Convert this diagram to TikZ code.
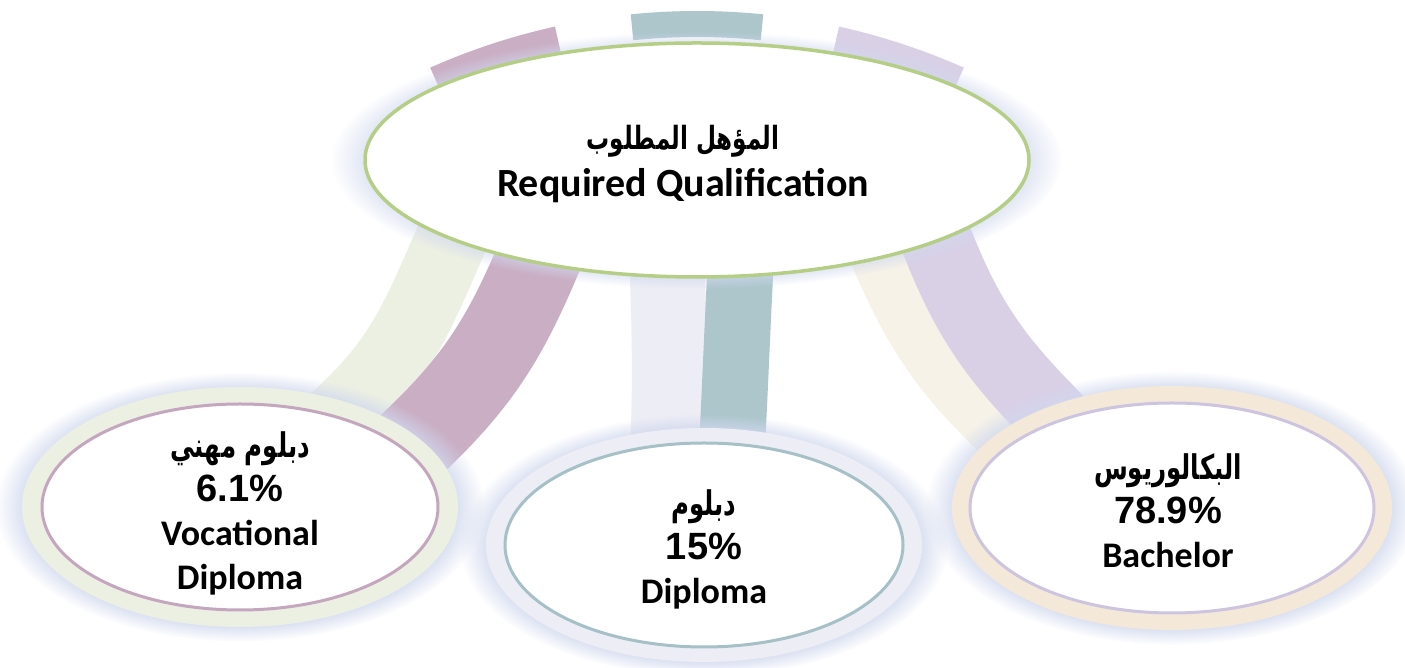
\documentclass[tikz,border=0pt]{standalone}
\usepackage{fontspec}
\TeXXeTstate=1
\newfontfamily\calib{Carlito}
\newfontfamily\arialf{Liberation Sans}
\newfontfamily\arabicfont[Script=Arabic, FakeStretch=0.72]{DejaVu Sans}
\usepackage{tikz}
\usetikzlibrary{shapes.geometric, positioning, backgrounds, shadows, fadings}
\definecolor{leafgreen}{RGB}{181,206,134}
\definecolor{glowblue}{RGB}{208,216,238}
\definecolor{mauve}{RGB}{202,174,196}
\definecolor{mauveline}{RGB}{196,166,190}
\definecolor{palegreen}{RGB}{236,240,227}
\definecolor{teal}{RGB}{172,198,204}
\definecolor{tealline}{RGB}{165,192,198}
\definecolor{palegray}{RGB}{237,237,245}
\definecolor{lavender}{RGB}{217,208,230}
\definecolor{lavline}{RGB}{205,196,224}
\definecolor{cream}{RGB}{246,242,232}
\definecolor{peach}{RGB}{244,232,216}

\begin{document}
\begin{tikzpicture}[
    x=1pt, y=1pt,
    halo/.style={circular glow={shadow scale=#1, fill=glowblue}},
    ring/.style={ellipse, inner sep=0pt, minimum width=436pt, minimum height=238pt},
    bubble/.style={ellipse, inner sep=0pt, fill=white, line width=3pt, minimum width=398pt, minimum height=206pt},
    ribbon/.style={line width=#1, shorten <=-40pt, shorten >=-40pt},
    tipband/.style={line width=26pt},
    lbl/.style={align=center, font=\calib\bfseries\fontsize{36}{44}\selectfont}
]
    \useasboundingbox (0,0) rectangle (1405,668);

    % Nodes
    \node[ellipse, inner sep=0pt, minimum width=664pt, minimum height=234pt,
          fill=white, draw=leafgreen, line width=3.5pt, halo=1.1] (top) at (697,508) {};
    \node[ring, fill=palegreen, minimum height=240pt, halo=1.12] (vocring) at (240,161) {};
    \node[bubble, draw=mauveline, minimum width=396pt] (voc) at (vocring) {};
    \node[ring, fill=palegray, minimum height=234pt, halo=1.12] (dipring) at (704,123) {};
    \node[bubble, draw=tealline, minimum height=204pt] (dip) at (dipring) {};
    \node[ring, fill=peach, minimum width=440pt, minimum height=244pt, halo=1.12] (bachring) at (1172,160) {};
    \node[bubble, draw=lavline, minimum width=404pt, minimum height=210pt] (bach) at (bachring) {};

    % Labels
    \node[lbl, font=\calib\bfseries\fontsize{40}{47}\selectfont] (toplbl) at ([xshift=-14pt,yshift=-4pt]top.center)
        {{\arabicfont\fontsize{32}{47}\selectfont\beginR المؤهل المطلوب\endR}\\Required Qualification};
    \node[lbl] (voclbl) at ([yshift=-6pt]voc.center)
        {{\arabicfont\fontsize{34}{44}\selectfont\beginR دبلوم مهني\endR}\\{\arialf\fontsize{38}{44}\selectfont 6.1\%}\\Vocational\\Diploma};
    \node[lbl] (diplbl) at ([yshift=-4pt]dip.center)
        {{\arabicfont\fontsize{34}{44}\selectfont\beginR دبلوم\endR}\\{\arialf\fontsize{38}{44}\selectfont 15\%}\\Diploma};
    \node[lbl] (bachlbl) at ([xshift=-4pt,yshift=-3pt]bach.center)
        {{\arabicfont\fontsize{34}{44}\selectfont\beginR البكالوريوس\endR}\\{\arialf\fontsize{38}{44}\selectfont 78.9\%}\\Bachelor};

    \begin{scope}[on background layer]
        \fill[white] (0,0) rectangle (1405,668);
        % Arcs peeking over the top
        \coordinate (hub) at (697,1);
        \draw[tipband, mauve] ([shift={(102.5:643)}]hub) arc[start angle=102.5, end angle=114, radius=643];
        \draw[tipband, teal] ([shift={(84.2:643)}]hub) arc[start angle=84.2, end angle=95.8, radius=643];
        \draw[tipband, lavender] ([shift={(66:643)}]hub) arc[start angle=66, end angle=77.5, radius=643];

        % Ribbons
        \draw[ribbon=72pt, palegreen] (top.198) to[out=245, in=40] (vocring.42);
        \draw[ribbon=85pt, mauve] (top.213) to[out=248, in=42] (vocring.21);
        \draw[ribbon=75pt, palegray] (top.256) to[out=272, in=88] (dipring.107);
        \draw[ribbon=66pt, teal] (top.290) to[out=267, in=87] (dipring.76);
        \draw[ribbon=52pt, cream] (top.331) to[out=292, in=138] (bachring.157);
        \draw[ribbon=72pt, lavender] (top.341) to[out=290, in=136] (bachring.142);
    \end{scope}
\end{tikzpicture}
\end{document}
